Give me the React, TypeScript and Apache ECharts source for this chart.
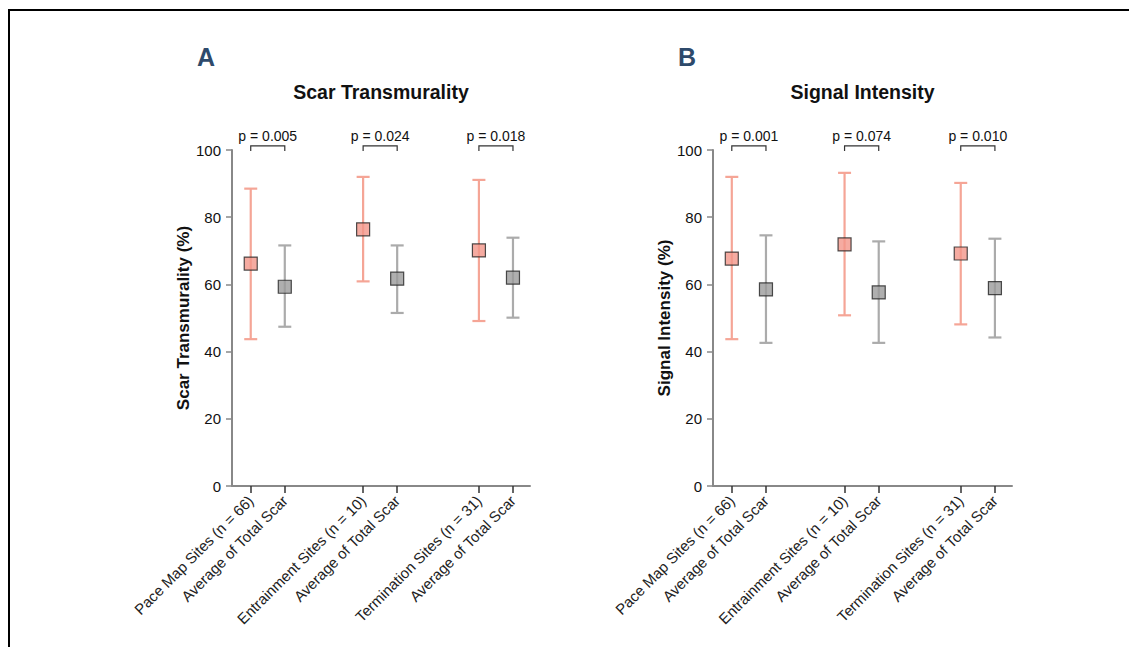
import React, { useEffect, useRef } from "react";
import * as echarts from "echarts";

const categories = [
  "Pace Map Sites (n = 66)",
  "Average of Total Scar",
  "Entrainment Sites (n = 10)",
  "Average of Total Scar",
  "Termination Sites (n = 31)",
  "Average of Total Scar",
];
const xPositions = [1, 2, 4.3, 5.3, 7.7, 8.7];
const pairs = [
  [1, 2],
  [4.3, 5.3],
  [7.7, 8.7],
];

const scarMean = [66.2, 59.3, 76.4, 61.7, 70.1, 62.0];
const scarLow = [43.7, 47.4, 60.9, 51.5, 49.1, 50.1];
const scarHigh = [88.5, 71.6, 92.0, 71.6, 91.1, 73.9];
const scarP = ["p = 0.005", "p = 0.024", "p = 0.018"];

const sigMean = [67.7, 58.5, 71.9, 57.6, 69.2, 58.9];
const sigLow = [43.7, 42.6, 50.8, 42.6, 48.1, 44.2];
const sigHigh = [92.0, 74.6, 93.2, 72.8, 90.2, 73.6];
const sigP = ["p = 0.001", "p = 0.074", "p = 0.010"];

const yMin = 0;
const yMax = 100;
const yInterval = 20;

const FONT = "'Liberation Sans', Arial, Helvetica, sans-serif";
const SALMON = "#F3968A";
const SALMON_BAR = "#F5A596";
const GRAY = "#9B9B9B";
const GRAY_BAR = "#ABABAB";

function labelFor(v: number) {
  const i = xPositions.findIndex((p) => Math.abs(p - v) < 1e-6);
  return i >= 0 ? categories[i] : "";
}

function makeAxes(idx: number, name: string) {
  const xAxis = {
    type: "value",
    gridIndex: idx,
    min: 0.45,
    max: 9.2,
    splitLine: { show: false },
    axisLine: { show: true, onZero: false, lineStyle: { color: "#888", width: 2 } },
    axisTick: {
      show: true,
      customValues: xPositions,
      length: 7,
      lineStyle: { color: "#333", width: 1.5 },
    },
    axisLabel: {
      show: true,
      customValues: xPositions,
      rotate: 45,
      margin: 12,
      fontSize: 15,
      color: "#222",
      fontFamily: FONT,
      formatter: (v: number) => labelFor(v),
    },
  };
  const yAxis = {
    type: "value",
    gridIndex: idx,
    min: yMin,
    max: yMax,
    interval: yInterval,
    name,
    nameLocation: "middle",
    nameGap: 37,
    nameRotate: 90,
    nameTextStyle: { fontSize: 17, fontWeight: "bold", color: "#111", fontFamily: FONT },
    splitLine: { show: false },
    axisLine: { show: true, onZero: false, lineStyle: { color: "#888", width: 2 } },
    axisTick: { show: true, length: 6, lineStyle: { color: "#888", width: 1.5 } },
    axisLabel: { fontSize: 15, color: "#111", margin: 11, fontFamily: FONT },
  };
  return { xAxis, yAxis };
}

function makeSeries(idx: number, mean: number[], low: number[], high: number[], pLabels: string[]) {
  const errData = xPositions.map((x, i) => [x, low[i], high[i], i]);
  const errSeries = {
    type: "custom",
    xAxisIndex: idx,
    yAxisIndex: idx,
    clip: false,
    silent: true,
    z: 2,
    data: errData,
    renderItem: (params: any, api: any) => {
      const x = api.value(0);
      const lo = api.value(1);
      const hi = api.value(2);
      const i = api.value(3);
      const pLo = api.coord([x, lo]);
      const pHi = api.coord([x, hi]);
      const color = i % 2 === 0 ? SALMON_BAR : GRAY_BAR;
      const half = 6.5;
      const style = { stroke: color, lineWidth: 2.2 };
      return {
        type: "group",
        children: [
          { type: "line", shape: { x1: pLo[0], y1: pLo[1], x2: pHi[0], y2: pHi[1] }, style },
          { type: "line", shape: { x1: pHi[0] - half, y1: pHi[1], x2: pHi[0] + half, y2: pHi[1] }, style },
          { type: "line", shape: { x1: pLo[0] - half, y1: pLo[1], x2: pLo[0] + half, y2: pLo[1] }, style },
        ],
      };
    },
  };
  const meanSeries = {
    type: "scatter",
    xAxisIndex: idx,
    yAxisIndex: idx,
    symbol: "rect",
    symbolSize: 13,
    z: 3,
    silent: true,
    data: xPositions.map((x, i) => ({
      value: [x, mean[i]],
      itemStyle: { color: i % 2 === 0 ? SALMON : GRAY, borderColor: "#222", borderWidth: 1.2 },
    })),
  };
  const bracketSeries = {
    type: "custom",
    xAxisIndex: idx,
    yAxisIndex: idx,
    clip: false,
    silent: true,
    z: 4,
    data: pairs.map((p, i) => [p[0], p[1], i]),
    renderItem: (params: any, api: any) => {
      const x1 = api.value(0);
      const x2 = api.value(1);
      const i = api.value(2);
      const a = api.coord([x1, 101.2]);
      const b = api.coord([x2, 101.2]);
      const aB = api.coord([x1, 99.7]);
      const bB = api.coord([x2, 99.7]);
      const t = api.coord([(x1 + x2) / 2, 104.1]);
      return {
        type: "group",
        children: [
          {
            type: "polyline",
            shape: { points: [[aB[0], aB[1]], [a[0], a[1]], [b[0], b[1]], [bB[0], bB[1]]] },
            style: { stroke: "#333", lineWidth: 1.2, fill: "none" },
          },
          {
            type: "text",
            x: t[0],
            y: t[1],
            style: {
              text: pLabels[i],
              fontSize: 14,
              fontFamily: FONT,
              fill: "#111",
              align: "center",
              verticalAlign: "middle",
            },
          },
        ],
      };
    },
  };
  return [errSeries, meanSeries, bracketSeries];
}

export default function App() {
  const ref = useRef<HTMLDivElement>(null);
  useEffect(() => {
    if (!ref.current) return;
    const chart = echarts.init(ref.current, undefined, { renderer: "svg" });
    const a = makeAxes(0, "Scar Transmurality (%)");
    const b = makeAxes(1, "Signal Intensity (%)");
    chart.setOption({
      animation: false,
      backgroundColor: "#ffffff",
      grid: [
        { left: 232, top: 150, width: 298, height: 336 },
        { left: 713, top: 150, width: 299, height: 336 },
      ],
      xAxis: [a.xAxis, b.xAxis],
      yAxis: [a.yAxis, b.yAxis],
      series: [
        ...makeSeries(0, scarMean, scarLow, scarHigh, scarP),
        ...makeSeries(1, sigMean, sigLow, sigHigh, sigP),
      ],
      graphic: [
        {
          type: "rect",
          silent: true,
          shape: { x: 9, y: 10, width: 1200, height: 700 },
          style: { fill: "none", stroke: "#000", lineWidth: 2 },
        },
        {
          type: "text",
          x: 206,
          y: 57,
          style: { text: "A", fontSize: 25, fontWeight: "bold", fill: "#2E4A6B", fontFamily: FONT, align: "center", verticalAlign: "middle" },
        },
        {
          type: "text",
          x: 687,
          y: 57,
          style: { text: "B", fontSize: 25, fontWeight: "bold", fill: "#2E4A6B", fontFamily: FONT, align: "center", verticalAlign: "middle" },
        },
        {
          type: "text",
          x: 381,
          y: 92,
          style: { text: "Scar Transmurality", fontSize: 19.5, fontWeight: "bold", fill: "#111", fontFamily: FONT, align: "center", verticalAlign: "middle" },
        },
        {
          type: "text",
          x: 862.5,
          y: 92,
          style: { text: "Signal Intensity", fontSize: 19.5, fontWeight: "bold", fill: "#111", fontFamily: FONT, align: "center", verticalAlign: "middle" },
        },
      ],
    });
    return () => chart.dispose();
  }, []);
  return (
    <div
      ref={ref}
      style={{ position: "fixed", left: 0, top: 0, width: 1129, height: 647 }}
    />
  );
}
